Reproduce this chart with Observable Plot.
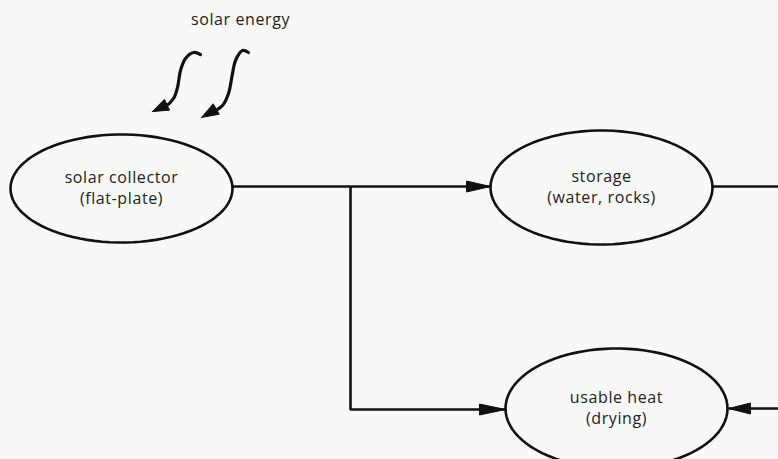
<!DOCTYPE html>
<html><head><meta charset="utf-8">
<script src="https://cdn.jsdelivr.net/npm/d3@7"></script>
<script src="https://cdn.jsdelivr.net/npm/@observablehq/plot@0.6"></script>
<style>
body{margin:0;background:#f8f8f6;}
#c{width:778px;height:459px;}
svg text{letter-spacing:0.6px;}
</style></head><body><div id="c"></div>
<script>
// Nodes of the diagram
const nodeNames = ["solar collector", "storage", "usable heat"];
const nodeSub = ["(flat-plate)", "(water, rocks)", "(drying)"];
const nodeCx = [121, 601, 616];
const nodeCy = [188, 187, 408];
const nodeRx = [111, 111, 111];
const nodeRy = [54, 57, 60];

// Connectors (polyline flows)
const flows = [
  {id: "collector→storage", pts: [[232, 186], [490, 186]]},
  {id: "branch→heat", pts: [[350, 186], [350, 409], [505, 409]]},
  {id: "storage→out", pts: [[712, 186], [778, 186]]},
  {id: "in→heat", pts: [[778, 408], [728, 408]]}
];
// Solar energy squiggles
const rays = [
  {id: "ray1", pts: [[200, 54], [193, 52], [185, 58], [180, 70], [177, 87], [173, 98], [165, 106], [158, 109]]},
  {id: "ray2", pts: [[248, 52], [242, 50], [235, 60], [232, 73], [228, 93], [222, 105], [208, 114]]}
];
// Arrowheads: tip, direction (deg, screen), length, half width
const heads = [
  {tip: [490, 186], dir: 0, len: 24, w: 5.5},
  {tip: [505, 409], dir: 0, len: 26, w: 5.5},
  {tip: [728, 408], dir: 180, len: 22, w: 5.5},
  {tip: [152, 111], dir: 155, len: 16, w: 6},
  {tip: [201, 117], dir: 150, len: 17, w: 6}
];
const title = "solar energy";

const ellipsePts = nodeNames.flatMap((n, i) =>
  d3.range(0, 361, 4).map(a => ({
    node: n,
    x: nodeCx[i] + nodeRx[i] * Math.cos(a * Math.PI / 180),
    y: nodeCy[i] + nodeRy[i] * Math.sin(a * Math.PI / 180)
  })));
const flowPts = flows.flatMap(f => f.pts.map(([x, y]) => ({id: f.id, x, y})));
const rayPts = rays.flatMap(f => f.pts.map(([x, y]) => ({id: f.id, x, y})));
const headPts = heads.flatMap((h, i) => {
  const r = h.dir * Math.PI / 180;
  const ux = Math.cos(r), uy = Math.sin(r);
  const bx = h.tip[0] - ux * h.len, by = h.tip[1] - uy * h.len;
  return [
    {id: i, x: h.tip[0], y: h.tip[1]},
    {id: i, x: bx - uy * h.w, y: by + ux * h.w},
    {id: i, x: bx + uy * h.w, y: by - ux * h.w},
    {id: i, x: h.tip[0], y: h.tip[1]}
  ];
});
const labels = nodeNames.flatMap((n, i) => [
  {t: n, x: nodeCx[i], y: nodeCy[i] - 11},
  {t: nodeSub[i], x: nodeCx[i], y: nodeCy[i] + 10}
]);

const fontFamily = "'Open Sans', sans-serif";
const plot = Plot.plot({
  width: 778, height: 459,
  margin: 0,
  x: {domain: [0, 778], axis: null},
  y: {domain: [459, 0], axis: null},
  style: {background: "#f8f8f6", fontFamily, color: "#111"},
  marks: [
    Plot.line(flowPts, {x: "x", y: "y", z: "id", stroke: "#111", strokeWidth: 2.6, strokeLinejoin: "miter", strokeLinecap: "butt"}),
    Plot.line(ellipsePts, {x: "x", y: "y", z: "node", stroke: "#111", strokeWidth: 2.6, curve: "linear-closed"}),
    Plot.line(rayPts, {x: "x", y: "y", z: "id", stroke: "#111", strokeWidth: 3.2, curve: "catmull-rom"}),
    Plot.line(headPts, {x: "x", y: "y", z: "id", stroke: "#111", fill: "#111", strokeWidth: 1, curve: "linear-closed"}),
    Plot.text(labels, {x: "x", y: "y", text: "t", fontSize: 16, fill: "#222", textAnchor: "middle"}),
    Plot.text([title], {x: 240, y: 19, text: d => d, fontSize: 16, fill: "#222", textAnchor: "middle"})
  ]
});
document.getElementById("c").appendChild(plot);
</script></body></html>
